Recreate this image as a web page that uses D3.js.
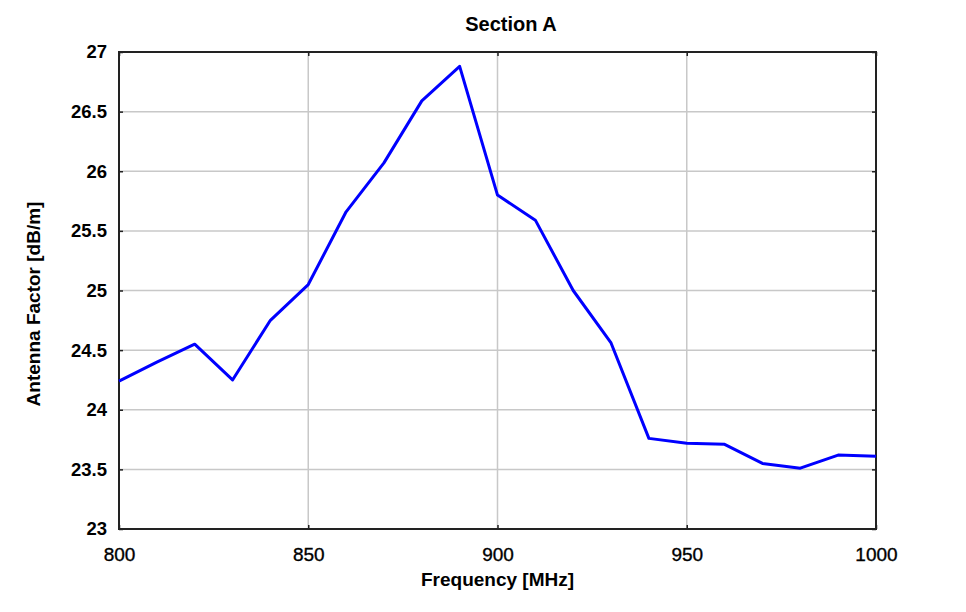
<!DOCTYPE html>
<html>
<head>
<meta charset="utf-8">
<script src="https://cdn.jsdelivr.net/npm/d3@7"></script>
<style>
  body { margin: 0; background: #fff; }
  text { font-family: "Liberation Sans", Arial, sans-serif; fill: #000; }
</style>
</head>
<body>
<div id="chart"></div>
<script>
// Section A antenna factor readings
const frequencies = [800, 810, 820, 830, 840, 850, 860, 870, 880, 890, 900,
                     910, 920, 930, 940, 950, 960, 970, 980, 990, 1000]
const antennaFactor = [24.24, 24.40, 24.55, 24.25, 24.75, 25.05, 25.66, 26.07, 26.59, 26.88, 25.80,
                       25.59, 25.00, 24.56, 23.76, 23.72, 23.71, 23.55, 23.51, 23.62, 23.61]
const xTicks = [800, 850, 900, 950, 1000]
const yTicks = [23, 23.5, 24, 24.5, 25, 25.5, 26, 26.5, 27]

const width = 966
const height = 612
const margin = { top: 52, right: 90, bottom: 83, left: 119 }
const innerW = width - margin.left - margin.right
const innerH = height - margin.top - margin.bottom

const svg = d3.select('#chart')
  .append('svg')
  .attr('width', width)
  .attr('height', height)

const g = svg.append('g')
  .attr('transform', `translate(${margin.left},${margin.top})`)

const x = d3.scaleLinear().domain([800, 1000]).range([0, innerW])
const y = d3.scaleLinear().domain([23, 27]).range([innerH, 0])

// grid
g.append('g')
  .selectAll('line')
  .data(xTicks.slice(1, -1))
  .join('line')
  .attr('x1', d => x(d)).attr('x2', d => x(d))
  .attr('y1', 0).attr('y2', innerH)
  .attr('stroke', '#c8c8c8').attr('stroke-width', 1.5)

g.append('g')
  .selectAll('line')
  .data(yTicks.slice(1, -1))
  .join('line')
  .attr('x1', 0).attr('x2', innerW)
  .attr('y1', d => y(d)).attr('y2', d => y(d))
  .attr('stroke', '#c8c8c8').attr('stroke-width', 1.5)

// axes, ticks pointing inward
const styleAxis = sel => {
  sel.select('.domain').remove()
  sel.selectAll('.tick line').attr('stroke', '#222').attr('stroke-width', 1.5)
  sel.selectAll('.tick text')
    .style('font-size', '19px')
    .style('font-family', '"Liberation Sans", Arial, sans-serif')
    .attr('fill', '#000')
}

g.append('g')
  .attr('transform', `translate(0,${innerH})`)
  .call(d3.axisBottom(x).tickValues(xTicks).tickSize(-4).tickPadding(19).tickFormat(d3.format('d')))
  .call(styleAxis)
  .selectAll('.tick text').style('stroke', '#000').style('stroke-width', 0.35)

g.append('g')
  .call(d3.axisTop(x).tickValues(xTicks).tickSize(-4).tickFormat(''))
  .call(styleAxis)

g.append('g')
  .call(d3.axisLeft(y).tickValues(yTicks).tickSize(-4).tickPadding(12).tickFormat(d3.format('')))
  .call(styleAxis)
  .selectAll('.tick text').style('font-weight', 'bold').style('font-size', '18.5px')

g.append('g')
  .attr('transform', `translate(${innerW},0)`)
  .call(d3.axisRight(y).tickValues(yTicks).tickSize(-4).tickFormat(''))
  .call(styleAxis)

// frame
g.append('rect')
  .attr('width', innerW).attr('height', innerH)
  .attr('fill', 'none').attr('stroke', '#222').attr('stroke-width', 2)

// line
const line = d3.line()
  .x((d, i) => x(frequencies[i]))
  .y(d => y(d))

g.append('path')
  .datum(antennaFactor)
  .attr('d', line)
  .attr('fill', 'none')
  .attr('stroke', '#0000ff')
  .attr('stroke-width', 3)
  .attr('stroke-linejoin', 'round')

// labels
svg.append('text')
  .attr('x', 511).attr('y', 31)
  .attr('text-anchor', 'middle')
  .style('font-size', '20px').style('font-weight', 'bold')
  .text('Section A')

svg.append('text')
  .attr('x', margin.left + innerW / 2).attr('y', 586)
  .attr('text-anchor', 'middle')
  .style('font-size', '19px').style('font-weight', 'bold')
  .text('Frequency [MHz]')

svg.append('text')
  .attr('transform', 'translate(40,304) rotate(-90)')
  .attr('text-anchor', 'middle')
  .style('font-size', '19px').style('font-weight', 'bold')
  .text('Antenna Factor [dB/m]')
</script>
</body>
</html>
